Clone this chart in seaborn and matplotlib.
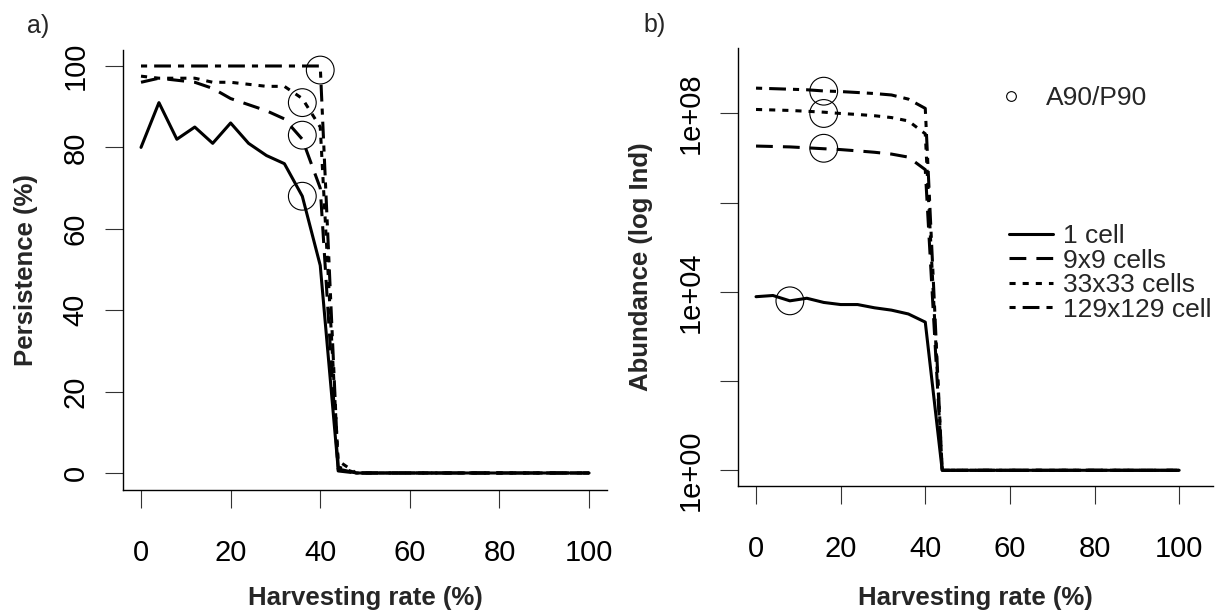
import matplotlib
matplotlib.use("Agg")
import matplotlib.pyplot as plt
import numpy as np
import pandas as pd
import seaborn as sns
from matplotlib.lines import Line2D

# ---------------- data ----------------
harvest = [0, 4, 8, 12, 16, 20, 24, 28, 32, 36, 40, 44, 48, 52, 56, 60, 64, 68, 72, 76, 80, 84, 88, 92, 96, 100]
series = ["1 cell", "9x9 cells", "33x33 cells", "129x129 cell"]

pers_1 = [80, 91, 82, 85, 81, 86, 81, 78, 76, 68, 51, 1, 0, 0, 0, 0, 0, 0, 0, 0, 0, 0, 0, 0, 0, 0]
pers_9 = [96, 97, 96.5, 96, 94.5, 92, 90.5, 89, 87, 82, 70, 0.5, 0, 0, 0, 0, 0, 0, 0, 0, 0, 0, 0, 0, 0, 0]
pers_33 = [97.5, 97, 97, 97, 96, 96, 95.5, 95, 95, 92, 85, 3, 0, 0, 0, 0, 0, 0, 0, 0, 0, 0, 0, 0, 0, 0]
pers_129 = [100, 100, 100, 100, 100, 100, 100, 100, 100, 100, 100, 1.5, 0, 0, 0, 0, 0, 0, 0, 0, 0, 0, 0, 0, 0, 0]

abun_1 = [7800, 8300, 6300, 7200, 5800, 5200, 5200, 4400, 3900, 3200, 2100, 1, 1, 1, 1, 1, 1, 1, 1, 1, 1, 1, 1, 1, 1, 1]
abun_9 = [1.86e7, 1.82e7, 1.78e7, 1.70e7, 1.62e7, 1.55e7, 1.45e7, 1.35e7, 1.23e7, 1.05e7, 5.5e6, 1,
          1, 1, 1, 1, 1, 1, 1, 1, 1, 1, 1, 1, 1, 1]
abun_33 = [1.23e8, 1.20e8, 1.17e8, 1.12e8, 1.07e8, 1.00e8, 9.5e7, 8.9e7, 8.1e7, 6.8e7, 3.5e7, 1,
           1, 1, 1, 1, 1, 1, 1, 1, 1, 1, 1, 1, 1, 1]
abun_129 = [3.7e8, 3.6e8, 3.5e8, 3.4e8, 3.2e8, 3.1e8, 2.95e8, 2.8e8, 2.6e8, 2.1e8, 1.3e8, 1,
            1, 1, 1, 1, 1, 1, 1, 1, 1, 1, 1, 1, 1, 1]

# A90/P90 markers
a90_pers_x = [36, 36, 36, 40]
a90_pers_y = [68, 83, 91, 99]
a90_abun_x = [8, 16, 16, 16]
a90_abun_y = [6300, 1.66e7, 1.0e8, 3.16e8]

x_ticks = [0, 20, 40, 60, 80, 100]
y_ticks_a = [0, 20, 40, 60, 80, 100]
y_ticks_b = [1e0, 1e2, 1e4, 1e6, 1e8]
y_labels_b = ["1e+00", "", "1e+04", "", "1e+08"]

# ---------------- style ----------------
sns.set_style("ticks")
plt.rcParams["font.family"] = ["Liberation Sans", "DejaVu Sans"]

LW = 2.2
dash_map = {
    "1 cell": "",
    "9x9 cells": (5.5, 3.3),
    "33x33 cells": (2.0, 2.3),
    "129x129 cell": (2.0, 2.3, 5.5, 2.3),
}

pers_df = pd.DataFrame({
    "harvest": harvest * 4,
    "value": pers_1 + pers_9 + pers_33 + pers_129,
    "series": sum([[s] * len(harvest) for s in series], []),
})
abun_df = pd.DataFrame({
    "harvest": harvest * 4,
    "value": abun_1 + abun_9 + abun_33 + abun_129,
    "series": sum([[s] * len(harvest) for s in series], []),
})

W, H = 1227, 615
fig = plt.figure(figsize=(W / 100, H / 100), dpi=100)
ax_a = fig.add_axes([123 / W, 1 - 490 / H, (607 - 123) / W, (490 - 50) / H])
ax_b = fig.add_axes([738 / W, 1 - 486 / H, (1213 - 738) / W, (486 - 48) / H])

for ax, df in ((ax_a, pers_df), (ax_b, abun_df)):
    sns.lineplot(data=df, x="harvest", y="value", style="series", style_order=series,
                 dashes=dash_map, color="black", linewidth=LW, legend=False,
                 errorbar=None, ax=ax)

sns.scatterplot(x=a90_pers_x, y=a90_pers_y, ax=ax_a, marker="o", s=400,
                facecolors="none", edgecolor="black", linewidth=0.8, legend=False)
sns.scatterplot(x=a90_abun_x, y=a90_abun_y, ax=ax_b, marker="o", s=400,
                facecolors="none", edgecolor="black", linewidth=0.8, legend=False)

ax_b.set_yscale("log")

ax_a.set_xlim(-4.02, 104.0)
ax_a.set_ylim(-4.18, 103.93)
ax_b.set_xlim(-4.26, 108.0)
ax_b.set_ylim(10 ** -0.352, 10 ** 9.468)

ax_a.set_xticks(x_ticks)
ax_a.set_yticks(y_ticks_a)
ax_b.set_xticks(x_ticks)
ax_b.set_yticks(y_ticks_b)
ax_b.set_yticklabels(y_labels_b)
ax_b.yaxis.set_minor_locator(matplotlib.ticker.NullLocator())

for ax in (ax_a, ax_b):
    for sp in ("top", "right"):
        ax.spines[sp].set_visible(False)
    for sp in ("left", "bottom"):
        ax.spines[sp].set_linewidth(1.0)
        ax.spines[sp].set_color("black")
    ax.tick_params(axis="both", direction="out", length=13, width=0.8,
                   color="#333333", labelsize=21, labelcolor="black")
    ax.tick_params(axis="x", pad=22)
    ax.tick_params(axis="y", pad=11, labelrotation=90)
    for lab in ax.get_yticklabels():
        lab.set_va("center")
    ax.set_xlabel("Harvesting rate (%)", fontsize=18.5, fontweight="bold")

ax_a.set_ylabel("Persistence (%)", fontsize=18.5, fontweight="bold")
ax_b.set_ylabel("Abundance (log Ind)", fontsize=18.5, fontweight="bold")
ax_a.xaxis.set_label_coords(0.5, -(586 - 490) / 440)
ax_b.xaxis.set_label_coords(0.5, -(586 - 486) / 438)
ax_a.yaxis.set_label_coords(-(123 - 38) / 484, 0.5)
ax_b.yaxis.set_label_coords(-(738 - 653) / 475, 0.5)

fig.text(27 / W, 1 - 33 / H, "a)", fontsize=18, ha="left", va="baseline")
fig.text(643 / W, 1 - 32 / H, "b)", fontsize=18, ha="left", va="baseline")

# legends
LEG_FS = 19
marker_handle = [Line2D([], [], marker="o", linestyle="none", markersize=7,
                        markerfacecolor="none", markeredgecolor="black", markeredgewidth=0.8)]
fig.legend(handles=marker_handle, labels=["A90/P90"], loc="upper left",
           bbox_to_anchor=(998 / W, 1 - 86 / H), bbox_transform=fig.transFigure,
           frameon=False, fontsize=LEG_FS, borderpad=0, borderaxespad=0,
           handlelength=0.97, handletextpad=0.85)

line_handles = [Line2D([], [], color="black", linewidth=LW,
                       linestyle="-" if dash_map[s] == "" else (0, dash_map[s]))
                for s in series]
fig.legend(handles=line_handles, labels=series, loc="upper left",
           bbox_to_anchor=(1009 / W, 1 - 224 / H), bbox_transform=fig.transFigure,
           frameon=False, fontsize=LEG_FS, borderpad=0, borderaxespad=0,
           handlelength=1.67, handletextpad=0.38, labelspacing=0.02)

fig.savefig("out.png", dpi=100)
